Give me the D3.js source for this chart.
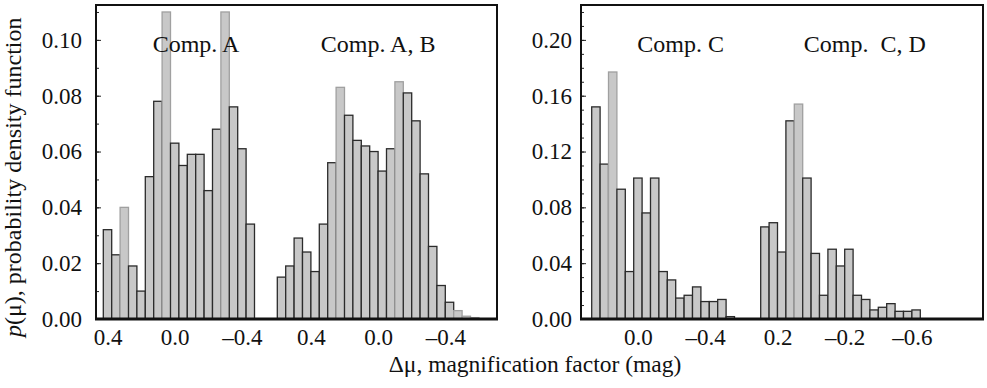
<!DOCTYPE html>
<html>
<head>
<meta charset="utf-8">
<script src="https://cdn.jsdelivr.net/npm/d3@7"></script>
<style>
  body { margin: 0; background: #fff; }
  svg { display: block; }
  svg text { font-family: "Liberation Serif", "Times New Roman", serif; }
</style>
</head>
<body>
<svg id="chart"></svg>
<script>
// histogram bins (bin centres, mag) and densities
const binWidth = 0.05;

const centersA = [0.4, 0.35, 0.3, 0.25, 0.2, 0.15, 0.1, 0.05, 0.0, -0.05, -0.1, -0.15, -0.2, -0.25, -0.3, -0.35, -0.4, -0.45];
const valuesA  = [0.032, 0.023, 0.040, 0.019, 0.010, 0.051, 0.078, 0.110, 0.063, 0.055, 0.059, 0.059, 0.046, 0.068, 0.110, 0.076, 0.061, 0.034];

const centersB = [0.575, 0.525, 0.475, 0.425, 0.375, 0.325, 0.275, 0.225, 0.175, 0.125, 0.075, 0.025, -0.025, -0.075, -0.125, -0.175, -0.225, -0.275, -0.325, -0.375, -0.425, -0.475, -0.525, -0.575];
const valuesB  = [0.015, 0.019, 0.029, 0.024, 0.017, 0.034, 0.056, 0.083, 0.073, 0.064, 0.062, 0.060, 0.053, 0.061, 0.085, 0.081, 0.071, 0.052, 0.026, 0.012, 0.006, 0.003, 0.001, 0.0005];

const centersC = [0.25, 0.2, 0.15, 0.1, 0.05, 0.0, -0.05, -0.1, -0.15, -0.2, -0.25, -0.3, -0.35, -0.4, -0.45, -0.5, -0.55];
const valuesC  = [0.152, 0.111, 0.177, 0.093, 0.034, 0.101, 0.076, 0.101, 0.034, 0.028, 0.015, 0.017, 0.023, 0.0125, 0.0125, 0.014, 0.0017];

const centersD = [0.275, 0.225, 0.175, 0.125, 0.075, 0.025, -0.025, -0.075, -0.125, -0.175, -0.225, -0.275, -0.325, -0.375, -0.425, -0.475, -0.525, -0.575, -0.625];
const valuesD  = [0.066, 0.069, 0.048, 0.142, 0.154, 0.101, 0.047, 0.017, 0.050, 0.038, 0.050, 0.017, 0.014, 0.0065, 0.0084, 0.011, 0.0055, 0.0055, 0.0065];

const titles = ["Comp. A", "Comp. A, B", "Comp. C", "Comp.  C, D"];
const titleAt = [-0.127, 0.0, -0.254, -0.32];   // mag, along each group's axis

const xTicksA = [0.4, 0.0, -0.4];
const xTicksB = [0.4, 0.0, -0.4];
const xTicksC = [0.0, -0.4];
const xTicksD = [0.2, -0.2, -0.6];

const yTicksLeft  = [0, 0.02, 0.04, 0.06, 0.08, 0.10];
const yTicksRight = [0, 0.04, 0.08, 0.12, 0.16, 0.20];

// bars whose outline comes out light in the original print
const lightA = [2, 7, 14], lightB = [7, 14, 21, 22, 23], lightC = [2], lightD = [4];

const width = 987, height = 388;
const plotTop = 5, plotBottom = 319;
const pxPerUnit = 168;
const serif = '"Liberation Serif", "Times New Roman", serif';

const svg = d3.select("#chart").attr("width", width).attr("height", height);

const fmt = v => (v < 0 ? "\u2013" : "") + d3.format(".1f")(Math.abs(v));

function groupScale(centers, px0) {
  const hi = centers[0] + binWidth / 2;
  const lo = centers[centers.length - 1] - binWidth / 2;
  return d3.scaleLinear().domain([hi, lo]).range([px0, px0 + (hi - lo) * pxPerUnit]);
}

function styleText(g, size) {
  g.attr("font-family", serif).attr("font-size", size);
  g.selectAll("text").style("font-family", serif).style("font-size", size + "px").attr("fill", "#111");
}

function panel(p) {
  const y = d3.scaleLinear().domain([0, p.ymax]).range([plotBottom, plotTop]);

  // minor ticks
  svg.append("g")
      .attr("transform", `translate(${p.left},0)`)
      .call(d3.axisLeft(y).tickValues(d3.range(0, p.ymax, 0.01)).tickSize(-3).tickFormat(""))
      .call(g => g.select(".domain").remove())
      .call(g => g.selectAll("line").attr("stroke", "#222"));

  // major ticks + labels
  svg.append("g")
      .attr("transform", `translate(${p.left},0)`)
      .call(d3.axisLeft(y).tickValues(p.yTicks).tickSize(-5).tickPadding(p.pad).tickFormat(d3.format(".2f")))
      .call(g => g.select(".domain").remove())
      .call(g => g.selectAll("line").attr("stroke", "#222"))
      .call(g => styleText(g, 23));

  p.groups.forEach(gr => {
    const x = groupScale(gr.centers, gr.px0);
    const data = gr.centers.map((c, i) => ({c, v: gr.values[i], light: gr.light.includes(i)}));

    svg.append("g")
      .selectAll("rect")
      .data(data)
      .join("rect")
        .attr("x", d => x(d.c + binWidth / 2))
        .attr("width", d => x(d.c - binWidth / 2) - x(d.c + binWidth / 2))
        .attr("y", d => y(d.v))
        .attr("height", d => y(0) - y(d.v))
        .attr("fill", "#c8c8c8")
        .attr("stroke", d => d.light ? "#a0a0a0" : "#2b2b2b")
        .attr("stroke-width", 1.3);

    svg.append("g")
        .attr("transform", `translate(0,${plotBottom})`)
        .call(d3.axisBottom(x).tickValues(gr.ticks).tickSize(0).tickPadding(10).tickFormat(fmt))
        .call(g => g.select(".domain").remove())
        .call(g => styleText(g, 23));

    svg.append("text")
        .attr("x", x(gr.titleAt))
        .attr("y", 52)
        .attr("text-anchor", "middle")
        .attr("font-size", 24)
        .attr("fill", "#111")
        .style("white-space", "pre")
        .text(gr.title);
  });

  // frame
  svg.append("rect")
      .attr("x", p.left).attr("y", plotTop)
      .attr("width", p.right - p.left).attr("height", plotBottom - plotTop)
      .attr("fill", "none").attr("stroke", "#111").attr("stroke-width", 2);
  svg.append("line")
      .attr("x1", p.left - 1).attr("x2", p.right + 1)
      .attr("y1", plotBottom).attr("y2", plotBottom)
      .attr("stroke", "#111").attr("stroke-width", 2.8);
}

panel({
  left: 96, right: 497, ymax: 0.1125, yTicks: yTicksLeft, pad: 14,
  groups: [
    {centers: centersA, values: valuesA, light: lightA, px0: 103.3, ticks: xTicksA, title: titles[0], titleAt: titleAt[0]},
    {centers: centersB, values: valuesB, light: lightB, px0: 277.3, ticks: xTicksB, title: titles[1], titleAt: titleAt[1]}
  ]
});

panel({
  left: 581, right: 983, ymax: 0.225, yTicks: yTicksRight, pad: 9,
  groups: [
    {centers: centersC, values: valuesC, light: lightC, px0: 591.7, ticks: xTicksC, title: titles[2], titleAt: titleAt[2]},
    {centers: centersD, values: valuesD, light: lightD, px0: 760.7, ticks: xTicksD, title: titles[3], titleAt: titleAt[3]}
  ]
});

// axis titles
const yLabel = svg.append("text")
    .attr("transform", "translate(21,337) rotate(-90)")
    .attr("font-size", 24)
    .attr("fill", "#111");
yLabel.append("tspan").attr("font-style", "italic").text("p");
yLabel.append("tspan").text("(\u03bc), probability density function");

svg.append("text")
    .attr("x", 535)
    .attr("y", 372)
    .attr("text-anchor", "middle")
    .attr("font-size", 23.5)
    .attr("fill", "#111")
    .text("\u0394\u03bc, magnification factor (mag)");
</script>
</body>
</html>
